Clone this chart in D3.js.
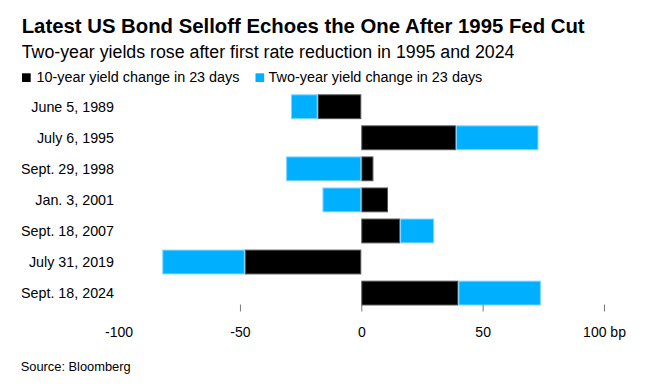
<!DOCTYPE html>
<html>
<head>
<meta charset="utf-8">
<script src="https://cdn.jsdelivr.net/npm/d3@7"></script>
<style>
  body { margin: 0; background: #fff; }
  svg { display: block; font-family: "Liberation Sans", Arial, sans-serif; }
</style>
</head>
<body>
<svg id="chart"></svg>
<script>
const dates = ["June 5, 1989", "July 6, 1995", "Sept. 29, 1998", "Jan. 3, 2001", "Sept. 18, 2007", "July 31, 2019", "Sept. 18, 2024"];
const tenYear = [-18, 39, 5, 11, 16, -48, 40];
const twoYear = [-11, 34, -31, -16, 14, -34, 34];
const tickValues = [-100, -50, 0, 50, 100];
const seriesNames = ["10-year yield change in 23 days", "Two-year yield change in 23 days"];

const width = 650;
const height = 387;
const colors = { ten: "#000000", two: "#00b0ff" };
const strokes = { ten: "#555555", two: "#80d4ff" };

const rows = dates.map((d, i) => ({ date: d, ten: tenYear[i], two: twoYear[i] }));

const stack = d3.stack()
    .keys(["ten", "two"])
    .offset(d3.stackOffsetDiverging);
const series = stack(rows);

const x = d3.scaleLinear()
    .domain([-100, 100])
    .range([118.6, 604]);

const y = d3.scaleBand()
    .domain(dates)
    .range([91.2, 308.6])
    .paddingInner(0.2)
    .paddingOuter(0.1);

const svg = d3.select("#chart")
    .attr("width", width)
    .attr("height", height)
    .attr("viewBox", [0, 0, width, height]);

// scale a text's font size so it spans the given width
function fit(sel, w) {
    const base = parseFloat(sel.style("font-size"));
    const len = sel.node().getComputedTextLength();
    sel.style("font-size", (base * w / len).toFixed(2) + "px");
    return sel;
}

svg.append("text")
    .attr("x", 21.7)
    .attr("y", 32.7)
    .style("font-size", "19px")
    .style("font-weight", "bold")
    .attr("fill", "#000")
    .text("Latest US Bond Selloff Echoes the One After 1995 Fed Cut")
    .call(fit, 563);

svg.append("text")
    .attr("x", 21.7)
    .attr("y", 58.3)
    .style("font-size", "16px")
    .attr("fill", "#000")
    .text("Two-year yields rose after first rate reduction in 1995 and 2024")
    .call(fit, 493);

// legend
const legendX = [22, 255.5];
const legendW = [203, 214];
["ten", "two"].forEach((k, i) => {
    svg.append("rect")
        .attr("x", legendX[i]).attr("y", 73.3)
        .attr("width", 8.7).attr("height", 8.7)
        .attr("fill", colors[k]);
    svg.append("text")
        .attr("x", legendX[i] + 14.5 - i * 1.5)
        .attr("y", 81.8)
        .style("font-size", "14px")
        .text(seriesNames[i])
        .call(fit, legendW[i]);
});

// bars
svg.append("g")
    .selectAll("g")
    .data(series)
    .join("g")
    .attr("fill", s => colors[s.key])
    .attr("stroke", s => strokes[s.key])
    .attr("stroke-width", 1)
    .selectAll("rect")
    .data(s => s.map(p => ({ p, date: p.data.date })))
    .join("rect")
    .attr("x", d => x(Math.min(d.p[0], d.p[1])) + 0.5)
    .attr("y", d => y(d.date) + 0.5)
    .attr("width", d => Math.max(0, Math.abs(x(d.p[1]) - x(d.p[0])) - 1))
    .attr("height", y.bandwidth() - 1);

// category labels
svg.append("g")
    .selectAll("text")
    .data(dates)
    .join("text")
    .attr("x", 114)
    .attr("y", d => y(d) + y.bandwidth() / 2 + 5)
    .attr("text-anchor", "end")
    .style("font-size", "14.3px")
    .attr("fill", "#000")
    .text(d => d);

// x axis
const xAxis = d3.axisBottom(x)
    .tickValues(tickValues)
    .tickSize(7)
    .tickPadding(16)
    .tickFormat(d => d === 100 ? "100 bp" : d3.format("d")(d).replace("−", "-"));

const gx = svg.append("g")
    .attr("transform", "translate(0,304.5)")
    .call(xAxis)
    .call(g => g.select(".domain").remove());

gx.selectAll(".tick line")
    .attr("stroke", "#777")
    .attr("opacity", d => d === -100 ? 0 : 1);
gx.selectAll(".tick text")
    .attr("fill", "#000")
    .style("font-size", "14px")
    .style("font-family", "'Liberation Sans', Arial, sans-serif");

svg.append("text")
    .attr("x", 20.7)
    .attr("y", 370.7)
    .style("font-size", "12.5px")
    .attr("fill", "#000")
    .text("Source: Bloomberg")
    .call(fit, 110);
</script>
</body>
</html>
